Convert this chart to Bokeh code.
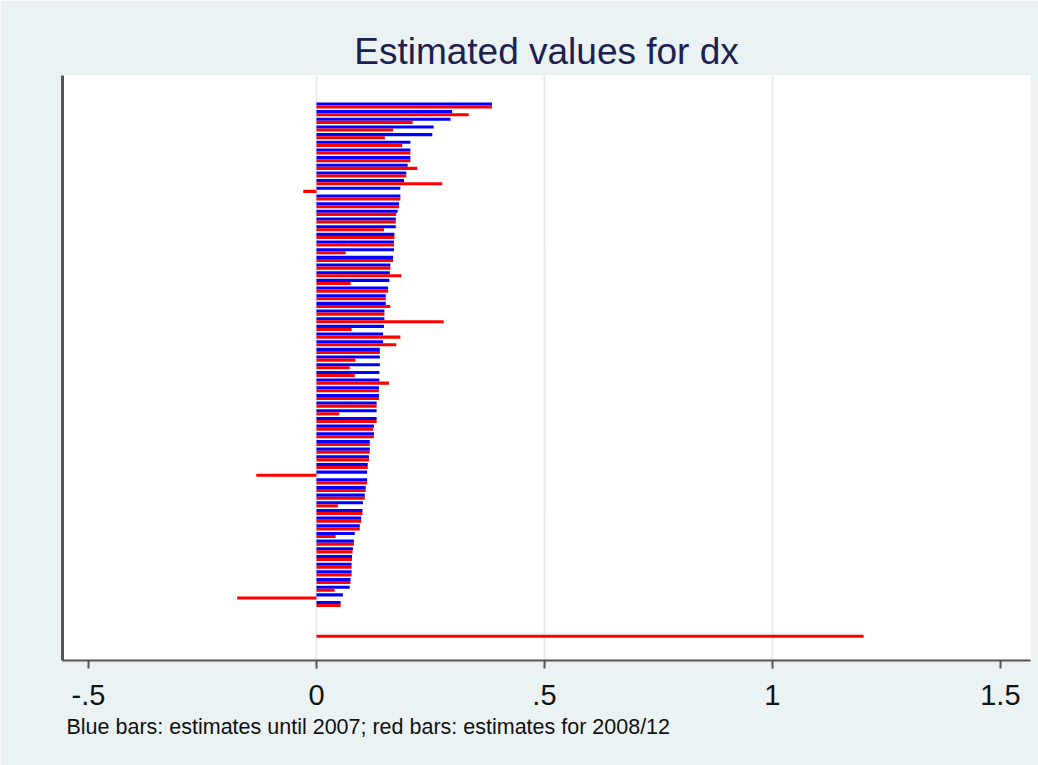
from bokeh.plotting import figure
from bokeh.models import Range1d, FixedTicker, ColumnDataSource, Title
from bokeh.embed import file_html
from bokeh.resources import INLINE

# Estimates until 2007 (blue) and for 2008/12 (red), one pair per unit (row order top->bottom)
blue_until_2007 = [0.385, 0.2975, 0.294, 0.257, 0.254, 0.206, 0.206, 0.206, 0.200, 0.197,
                   0.192, 0.184, 0.184, 0.181, 0.178, 0.174, 0.174, 0.171, 0.170, 0.170,
                   0.168, 0.162, 0.161, 0.160, 0.157, 0.152, 0.152, 0.149, 0.149, 0.148,
                   0.146, 0.146, 0.139, 0.139, 0.139, 0.138, 0.138, 0.137, 0.137, 0.132,
                   0.132, 0.132, 0.126, 0.126, 0.117, 0.117, 0.115, 0.1125, 0.111, 0.111,
                   0.108, 0.106, 0.102, 0.101, 0.098, 0.095, 0.084, 0.082, 0.080, 0.078,
                   0.077, 0.077, 0.0746, 0.073, 0.058, 0.053, None, None, None, None]
red_2008_12 = [0.385, 0.334, 0.211, 0.168, 0.150, 0.188, 0.206, 0.206, 0.221, 0.197,
               0.276, -0.029, 0.184, 0.181, 0.175, 0.174, 0.148, 0.171, 0.170, 0.064,
               0.168, 0.162, 0.186, 0.075, 0.157, 0.152, 0.162, 0.149, 0.279, 0.077,
               0.184, 0.175, 0.139, 0.0855, 0.073, 0.084, 0.159, 0.137, 0.137, 0.132,
               0.050, 0.132, 0.124, 0.126, 0.117, 0.117, 0.115, 0.1125, -0.132, 0.111,
               0.108, 0.106, 0.047, 0.101, 0.098, 0.095, 0.042, 0.082, 0.079, 0.078,
               0.077, 0.077, 0.0746, 0.040, -0.174, 0.053, None, None, None, 1.2]
rows = list(range(1, len(blue_until_2007) + 1))

x_ticks = [-0.5, 0, 0.5, 1, 1.5]
x_tick_labels = ["-.5", "0", ".5", "1", "1.5"]

title_text = "Estimated values for dx"
note_text = "Blue bars: estimates until 2007; red bars: estimates for 2008/12"

BG = "#eaf2f3"

b_src = ColumnDataSource(dict(
    y=[r - 0.2 for r, v in zip(rows, blue_until_2007) if v is not None],
    right=[v for v in blue_until_2007 if v is not None]))
r_src = ColumnDataSource(dict(
    y=[r + 0.2 for r, v in zip(rows, red_2008_12) if v is not None],
    right=[v for v in red_2008_12 if v is not None]))

p = figure(width=1038, height=765, output_backend="svg", toolbar_location=None,
           x_range=Range1d(-0.557, 1.566), y_range=Range1d(73.36, -2.91),
           min_border_left=62, min_border_right=8, min_border_top=75, min_border_bottom=105)
p.background_fill_color = "white"
p.border_fill_color = BG
p.outline_line_color = None

p.title.text = title_text
p.title.align = "center"
p.title.text_font = "Liberation Sans"
p.title.text_font_size = "37px"
p.title.text_font_style = "normal"
p.title.text_color = "#1e2050"
p.title.standoff = 8

p.hbar(y="y", left=0, right="right", height=0.4, source=b_src,
       fill_color="#0000ff", line_color=None)
p.hbar(y="y", left=0, right="right", height=0.4, source=r_src,
       fill_color="#ff0000", line_color=None)

p.xaxis.ticker = FixedTicker(ticks=x_ticks)
p.xaxis.major_label_overrides = {t: l for t, l in zip(x_ticks, x_tick_labels)}
p.xaxis.major_label_text_font = "Liberation Sans"
p.xaxis.major_label_text_font_size = "29px"
p.xaxis.major_label_text_color = "#111111"
p.xaxis.axis_line_color = "#555555"
p.xaxis.axis_line_width = 2
p.xaxis.major_tick_line_color = "#555555"
p.xaxis.major_tick_line_width = 2
p.xaxis.major_tick_out = 8
p.xaxis.major_tick_in = 0
p.xaxis.minor_tick_line_color = None
p.xaxis.major_label_standoff = 16

p.yaxis.ticker = FixedTicker(ticks=[])
p.yaxis.axis_line_color = "#555555"
p.yaxis.axis_line_width = 3
p.yaxis.major_tick_line_color = None
p.yaxis.minor_tick_line_color = None
p.yaxis.major_label_text_font_size = "0px"

p.xgrid.ticker = FixedTicker(ticks=[0, 0.5, 1])
p.xgrid.grid_line_color = "#e2ecee"
p.xgrid.grid_line_width = 2
p.ygrid.grid_line_color = None

note = Title(text=note_text, align="left", text_font="Liberation Sans",
             text_font_size="21.5px", text_font_style="normal", text_color="#111111",
             standoff=11, offset=4)
p.add_layout(note, "below")

html = file_html(p, INLINE)
html = html.replace("<body>", '<body style="background:%s">' % BG, 1)
open("out.html", "w").write(html)
